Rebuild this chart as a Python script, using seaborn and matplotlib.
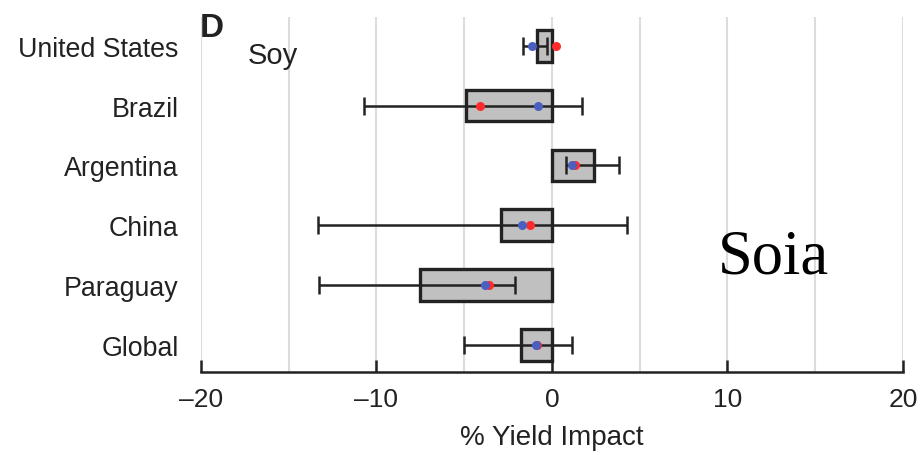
import matplotlib
matplotlib.use("Agg")
import matplotlib.pyplot as plt
import seaborn as sns
import pandas as pd
import numpy as np

countries = ["United States", "Brazil", "Argentina", "China", "Paraguay", "Global"]
box_values = [-0.85, -4.9, 2.4, -2.9, -7.5, -1.75]
whisker_low = [-1.65, -10.7, 0.8, -13.35, -13.25, -5.0]
whisker_high = [-0.3, 1.7, 3.8, 4.3, -2.1, 1.15]
red_points = [0.25, -4.1, 1.3, -1.25, -3.6, -0.85]
blue_points = [-1.15, -0.8, 1.15, -1.7, -3.8, -0.9]
xticks = [-20, -10, 0, 10, 20]
xticklabels = ["\u201320", "\u201310", "0", "10", "20"]

df = pd.DataFrame({"country": countries, "box": box_values,
                   "lo": whisker_low, "hi": whisker_high,
                   "red": red_points, "blue": blue_points})

sns.set_theme(style="white")
plt.rcParams["font.family"] = ["Liberation Sans", "DejaVu Sans"]

fig = plt.figure(figsize=(9.21, 4.56), dpi=100)
ax = fig.add_axes([0.2182, 0.182, 0.7622, 0.7785])

for gx in range(-20, 21, 5):
    ax.axvline(gx, color="#dcdcdc", lw=1.5, zorder=0)

sns.barplot(data=df, x="box", y="country", order=countries, orient="h",
            color="#c0c0c0", edgecolor="#222222", linewidth=2.4,
            width=0.53, saturation=1, ax=ax, zorder=2)

ypos = np.arange(len(countries))
mid = (df["lo"] + df["hi"]) / 2
half = (df["hi"] - df["lo"]) / 2
ax.errorbar(mid, ypos, xerr=half, fmt="none", ecolor="#222222",
            elinewidth=1.8, capsize=6.5, capthick=1.8, zorder=3)

sns.stripplot(data=df, x="red", y="country", order=countries, orient="h",
              jitter=False, color="#ff2a2a", size=6.5, linewidth=0, ax=ax, zorder=4)
sns.stripplot(data=df, x="blue", y="country", order=countries, orient="h",
              jitter=False, color="#4a5fc0", size=6.5, linewidth=0, ax=ax, zorder=5)

ax.set_xlim(-20, 20)
ax.set_ylim(5.45, -0.48)
ax.set_xticks(xticks)
ax.set_xticklabels(xticklabels)
ax.tick_params(axis="x", bottom=True, direction="in", length=9, width=1.8,
               color="#222222", labelsize=19, pad=11, labelcolor="#222222")
ax.tick_params(axis="y", left=False, length=0, labelsize=19.3, pad=16,
               labelcolor="#222222")
ax.set_ylabel("")
ax.set_xlabel("% Yield Impact", fontsize=20, color="#222222", labelpad=9)

for s in ["top", "right", "left"]:
    ax.spines[s].set_visible(False)
ax.spines["bottom"].set_color("#222222")
ax.spines["bottom"].set_linewidth(1.8)

fig.text(200 / 921, 1 - 13 / 456, "D", fontsize=24, fontweight="bold",
         ha="left", va="top", color="#222222")
fig.text(248 / 921, 1 - 64 / 456, "Soy", fontsize=21, ha="left",
         va="baseline", color="#222222")
fig.text(718 / 921, 1 - 273 / 456, "Soia", fontsize=45, ha="left",
         va="baseline", color="black", family=["Liberation Serif", "DejaVu Serif"])

fig.savefig("out.png", dpi=100)
